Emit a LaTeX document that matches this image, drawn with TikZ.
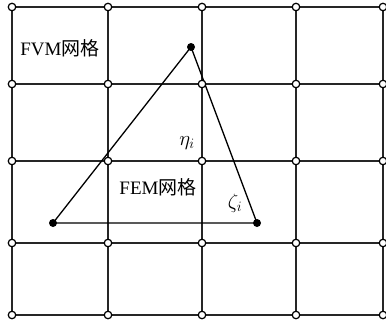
\documentclass[tikz,border=0pt]{standalone}
\usepackage{fontspec}
\setmainfont{Liberation Serif}
\newfontfamily\cjk{Noto Sans CJK SC}
\begin{document}
\begin{tikzpicture}[x=1pt,y=-1pt,
  gridline/.style={line width=1.9pt,draw=black!85},
  triline/.style={line width=1.3pt,draw=black},
  opennode/.style={circle,draw=black,fill=white,line width=1.2pt,inner sep=0pt,minimum size=7.5pt},
  dotnode/.style={circle,fill=black,inner sep=0pt,minimum size=8pt},
  lbl/.style={font=\fontsize{19}{22}\selectfont,inner sep=0pt},
  glbl/.style={font=\fontsize{20}{22}\selectfont,inner sep=0pt}]
\useasboundingbox (0,0) rectangle (386,324);
% grid coordinates
\foreach \i/\x in {1/12,2/108,3/202,4/296,5/383}{
  \foreach \j/\y in {1/7,2/84,3/161,4/243,5/315}{
    \coordinate (g-\i-\j) at (\x,\y);
  }
}
% grid lines
\foreach \j in {1,...,5}{ \draw[gridline] (g-1-\j) -- (g-5-\j) -- ++(4,0); }
\foreach \i in {1,...,5}{ \draw[gridline] (g-\i-1) -- (g-\i-5); }
% triangle
\coordinate (A) at (191,47);
\coordinate (B) at (53,223);
\coordinate (C) at (257,223);
\draw[triline] (A) -- (B) -- (C) -- cycle;
% open circles
\foreach \i in {1,...,5}{
  \foreach \j in {1,...,5}{
    \node[opennode] (n-\i-\j) at (g-\i-\j) {};
  }
}
% filled dots
\node[dotnode] (a) at (A) {};
\node[dotnode] (b) at (B) {};
\node[dotnode] (c) at (C) {};
% labels
\node[lbl] (fvm) at (60,48) {FVM{\cjk 网格}};
\node[lbl] (fem) at (158,187) {FEM{\cjk 网格}};
\node[glbl] (eta) at (187,143) {$\eta_i$};
\node[glbl] (zeta) at (235,203) {$\zeta_i$};
\end{tikzpicture}
\end{document}
